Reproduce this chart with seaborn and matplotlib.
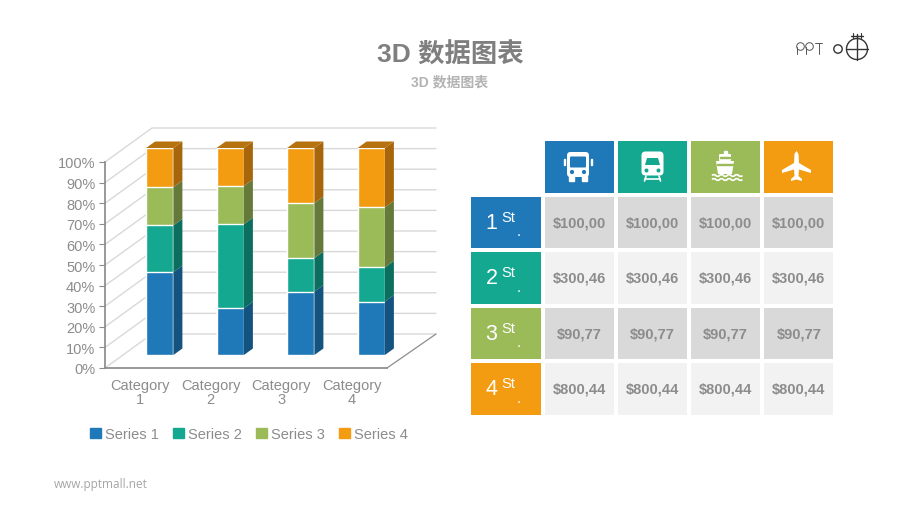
import numpy as np
import pandas as pd
import matplotlib
matplotlib.use("Agg")
import matplotlib.pyplot as plt
import seaborn as sns
from matplotlib.colors import ListedColormap
from matplotlib.path import Path
from matplotlib.patches import Circle, FancyBboxPatch, PathPatch, Polygon, Rectangle

# values (percent of each stacked bar)
categories = ["Category\n1", "Category\n2", "Category\n3", "Category\n4"]
series_names = ["Series 1", "Series 2", "Series 3", "Series 4"]
series1 = [40.0, 22.6, 30.6, 25.8]
series2 = [22.6, 40.6, 16.2, 16.5]
series3 = [18.5, 18.4, 26.6, 29.0]
series4 = [18.9, 18.4, 26.6, 28.7]
y_ticks = [0, 10, 20, 30, 40, 50, 60, 70, 80, 90, 100]

table_prices = ["$100,00", "$300,46", "$90,77", "$800,44"]
rank_labels = ["1", "2", "3", "4"]

BLUE, TEAL, GREEN, ORANGE = "#1f78b8", "#13a88f", "#9bbb59", "#f39c12"
colors = [BLUE, TEAL, GREEN, ORANGE]
side_colors = ["#14527f", "#0b6e5e", "#64793a", "#a8660c"]
TEXT = "#8c8c8c"

sns.set_theme(style="white")
plt.rcParams["font.family"] = ["Liberation Sans", "Noto Sans CJK SC", "DejaVu Sans"]

W, H = 900, 506
fig = plt.figure(figsize=(9, 5.06), dpi=100)


def px_axes(left, top, right, bottom, z=1):
    a = fig.add_axes([left / W, 1 - bottom / H, (right - left) / W, (bottom - top) / H], zorder=z)
    a.patch.set_alpha(0)
    return a


# pixel canvas for the walls of the fake 3D box
wall = px_axes(0, 0, W, H, 0)
wall.set_xlim(0, W)
wall.set_ylim(H, 0)
wall.axis("off")
x0, x1, y0, y100 = 105, 387, 369, 163
back_dx, back_dy = 47, -34
for t in y_ticks:
    yy = y0 + (y100 - y0) * t / 100
    wall.plot([x0, x0 + back_dx, x1 + back_dx + 2], [yy, yy + back_dy, yy + back_dy], color="#d9d9d9", lw=1)
wall.plot([x1, x1 + back_dx + 2], [y0, y0 + back_dy], color="#8c8c8c", lw=0.9)

# front axis: ticks and labels only
front = px_axes(x0, y100, x1, y0, 1)
front.set_xlim(-0.5, 3.5)
front.set_ylim(0, 100)
front.set_yticks(y_ticks)
front.set_yticklabels([f"{t}%" for t in y_ticks], color=TEXT, fontsize=10.5)
front.set_xticks(np.arange(-0.5, 4))
front.set_xticklabels([])
front.set_xticks(range(4), labels=categories, minor=True)
front.tick_params(axis="x", which="minor", length=0, pad=7, labelcolor=TEXT, labelsize=10.5)
front.tick_params(axis="x", which="major", length=5, width=0.8, color="#8c8c8c")
front.tick_params(axis="y", length=4, width=0.8, color="#8c8c8c", pad=3, left=True)
for lab in front.get_xticklabels(minor=True):
    lab.set_linespacing(1.0)
sns.despine(ax=front)
front.spines["left"].set_color("#8c8c8c")
front.spines["bottom"].set_color("#8c8c8c")

# stacked bars: cumulative layers, tallest first
bars = px_axes(x0 + 19.5, 149, x1 + 19.5, 356, 2)
df = pd.DataFrame(dict(zip(series_names, [series1, series2, series3, series4])), index=categories)
cum = df.cumsum(axis=1)
bar_width = 0.387
for name, c in reversed(list(zip(series_names, colors))):
    sns.barplot(x=list(range(4)), y=cum[name].values, color=c, saturation=1, width=bar_width,
                errorbar=None, ax=bars, label=name, legend=False)
bars.set_xlim(-0.5, 3.5)
bars.set_ylim(0, 100)
bars.axis("off")

depth_x = 9 / ((x1 - x0) / 4)
depth_y = 6.5 / 2.07
for i in range(4):
    right = i + bar_width / 2
    left = i - bar_width / 2
    low = 0
    for name, sc in zip(series_names, side_colors):
        up = cum[name].values[i]
        bars.add_patch(Polygon([(right, low), (right + depth_x, low + depth_y),
                                (right + depth_x, up + depth_y), (right, up)],
                               facecolor=sc, edgecolor="none", clip_on=False))
        low = up
    bars.add_patch(Polygon([(left, low), (left + depth_x, low + depth_y),
                            (right + depth_x, low + depth_y), (right, low)],
                           facecolor="#b5720e", edgecolor="none", clip_on=False))

handles = [Rectangle((0, 0), 1, 1, color=c) for c in colors]
fig.legend(handles, series_names, ncol=4, frameon=False, loc="center",
           bbox_to_anchor=(249 / W, 1 - 435 / H), fontsize=10.5, labelcolor=TEXT,
           handlelength=0.75, handleheight=0.75, handletextpad=0.3, columnspacing=0.95)

# table as a heatmap, codes point into the colour list
cell_colors = ["#ffffff", BLUE, TEAL, GREEN, ORANGE, "#d9d9d9", "#f2f2f2"]
codes = [[0, 1, 2, 3, 4],
         [1, 5, 5, 5, 5],
         [2, 6, 6, 6, 6],
         [3, 5, 5, 5, 5],
         [4, 6, 6, 6, 6]]
annot = [[""] * 5] + [[""] + [p] * 4 for p in table_prices]
tab = px_axes(469.5, 140, 835.5, 417.5, 1)
sns.heatmap(codes, annot=annot, fmt="", cmap=ListedColormap(cell_colors), vmin=-0.5, vmax=6.5,
            cbar=False, linewidths=1.5, linecolor="white", xticklabels=False, yticklabels=False,
            annot_kws={"color": "#8c8c8c", "fontsize": 10.5, "fontweight": "bold"}, ax=tab)
for r, rank in enumerate(rank_labels):
    tab.text(0.3, r + 1.5, rank, color="white", fontsize=15.5, ha="center", va="center")
    tab.text(0.44, r + 1.4, "St", color="white", fontsize=10.5, ha="left", va="center")
    tab.text(0.645, r + 1.66, ".", color="white", fontsize=10.5, ha="left", va="center")

# overlay for title, logo, footer and icons
top = px_axes(0, 0, W, H, 5)
top.set_xlim(0, W)
top.set_ylim(H, 0)
top.axis("off")
top.text(450, 55, "3D 数据图表", color="#7f7f7f", fontsize=19, fontweight="bold", ha="center", va="center")
top.text(450, 82, "3D 数据图表", color="#b3b3b3", fontsize=10, fontweight="bold", ha="center", va="center")
top.text(54, 484.5, "www.pptmall.net", color="#a6a6a6", fontsize=8.5, family="Open Sans", ha="left", va="center")


def rbox(x, y, w, h, r, c="white"):
    top.add_patch(FancyBboxPatch((x + r, y + r), w - 2 * r, h - 2 * r,
                                 boxstyle=f"round,pad={r}", facecolor=c, edgecolor="none"))


def poly(pts, c="white"):
    top.add_patch(Polygon(pts, closed=True, facecolor=c, edgecolor="none"))


def wave(x, y, n, step, amp):
    verts = [(x, y)]
    codes_ = [Path.MOVETO]
    for k in range(n):
        sign = -1 if k % 2 == 0 else 1
        verts += [(x + (k + 0.5) * step, y + sign * amp), (x + (k + 1) * step, y)]
        codes_ += [Path.CURVE3, Path.CURVE3]
    top.add_patch(PathPatch(Path(verts, codes_), facecolor="none", edgecolor="white", lw=1.2))


# bus
rbox(567, 153, 22, 25, 3.5)
rbox(570, 157.5, 16, 11, 1, BLUE)
top.add_patch(Rectangle((569, 177), 5, 4.5, color="white"))
top.add_patch(Rectangle((582, 177), 5, 4.5, color="white"))
top.add_patch(Circle((572, 173), 1.4, color=BLUE))
top.add_patch(Circle((584, 173), 1.4, color=BLUE))
top.add_patch(Rectangle((563.5, 160), 1.3, 6, color="white"))
top.add_patch(Rectangle((591, 160), 1.3, 6, color="white"))

# train
rbox(641.5, 152.5, 22, 24, 4)
poly([(647, 159), (658, 159), (660, 166), (645, 166)], TEAL)
top.add_patch(Circle((646.5, 171.5), 1.3, color=TEAL))
top.add_patch(Circle((658.5, 171.5), 1.3, color=TEAL))
top.plot([646, 644.5], [177, 182], color="white", lw=1.2)
top.plot([659, 660.5], [177, 182], color="white", lw=1.2)
top.plot([645, 660], [179.5, 179.5], color="white", lw=1.2)

# ship
top.add_patch(Rectangle((723.5, 152), 3, 4, color="white"))
rbox(719, 155, 12, 7, 1)
poly([(716, 162), (734, 162), (732, 175), (718, 175)])
top.add_patch(Rectangle((720, 158), 10, 1.2, color=GREEN))
top.add_patch(Rectangle((717, 165), 16, 1, color=GREEN))
wave(712, 176.5, 8, 3.8, 2)
wave(712, 180.5, 8, 3.8, 2)

# plane
poly([(796.5, 152), (798.5, 155), (799, 164), (811, 171), (811, 174), (799, 170.5), (798.5, 177),
      (802, 180), (802, 182), (796.5, 180.5), (791, 182), (791, 180), (794.5, 177), (794, 170.5),
      (782, 174), (782, 171), (794, 164), (794.5, 155)])

# logo
for cx in (800.5, 809.5):
    top.add_patch(Circle((cx, 47.5), 3.8, facecolor="none", edgecolor="#555555", lw=0.7))
    top.plot([cx - 3.8, cx - 3.8], [47.5, 55], color="#555555", lw=0.7)
top.plot([815, 822], [44, 44], color="#555555", lw=0.7)
top.plot([818.5, 818.5], [44, 55], color="#555555", lw=0.7)
top.add_patch(Circle((838, 50), 4.2, facecolor="none", edgecolor="#333333", lw=1))
top.add_patch(Circle((857, 50), 10.5, facecolor="none", edgecolor="#333333", lw=1))
top.plot([846.5, 867.5], [50, 50], color="#333333", lw=1)
top.plot([857, 857], [35, 61], color="#333333", lw=1)
top.plot([851, 863], [36.5, 36.5], color="#333333", lw=1)
top.plot([853, 853], [34, 39], color="#333333", lw=0.8)
top.plot([861, 861], [34, 39], color="#333333", lw=0.8)

fig.savefig("out.png", dpi=100, facecolor="white")
